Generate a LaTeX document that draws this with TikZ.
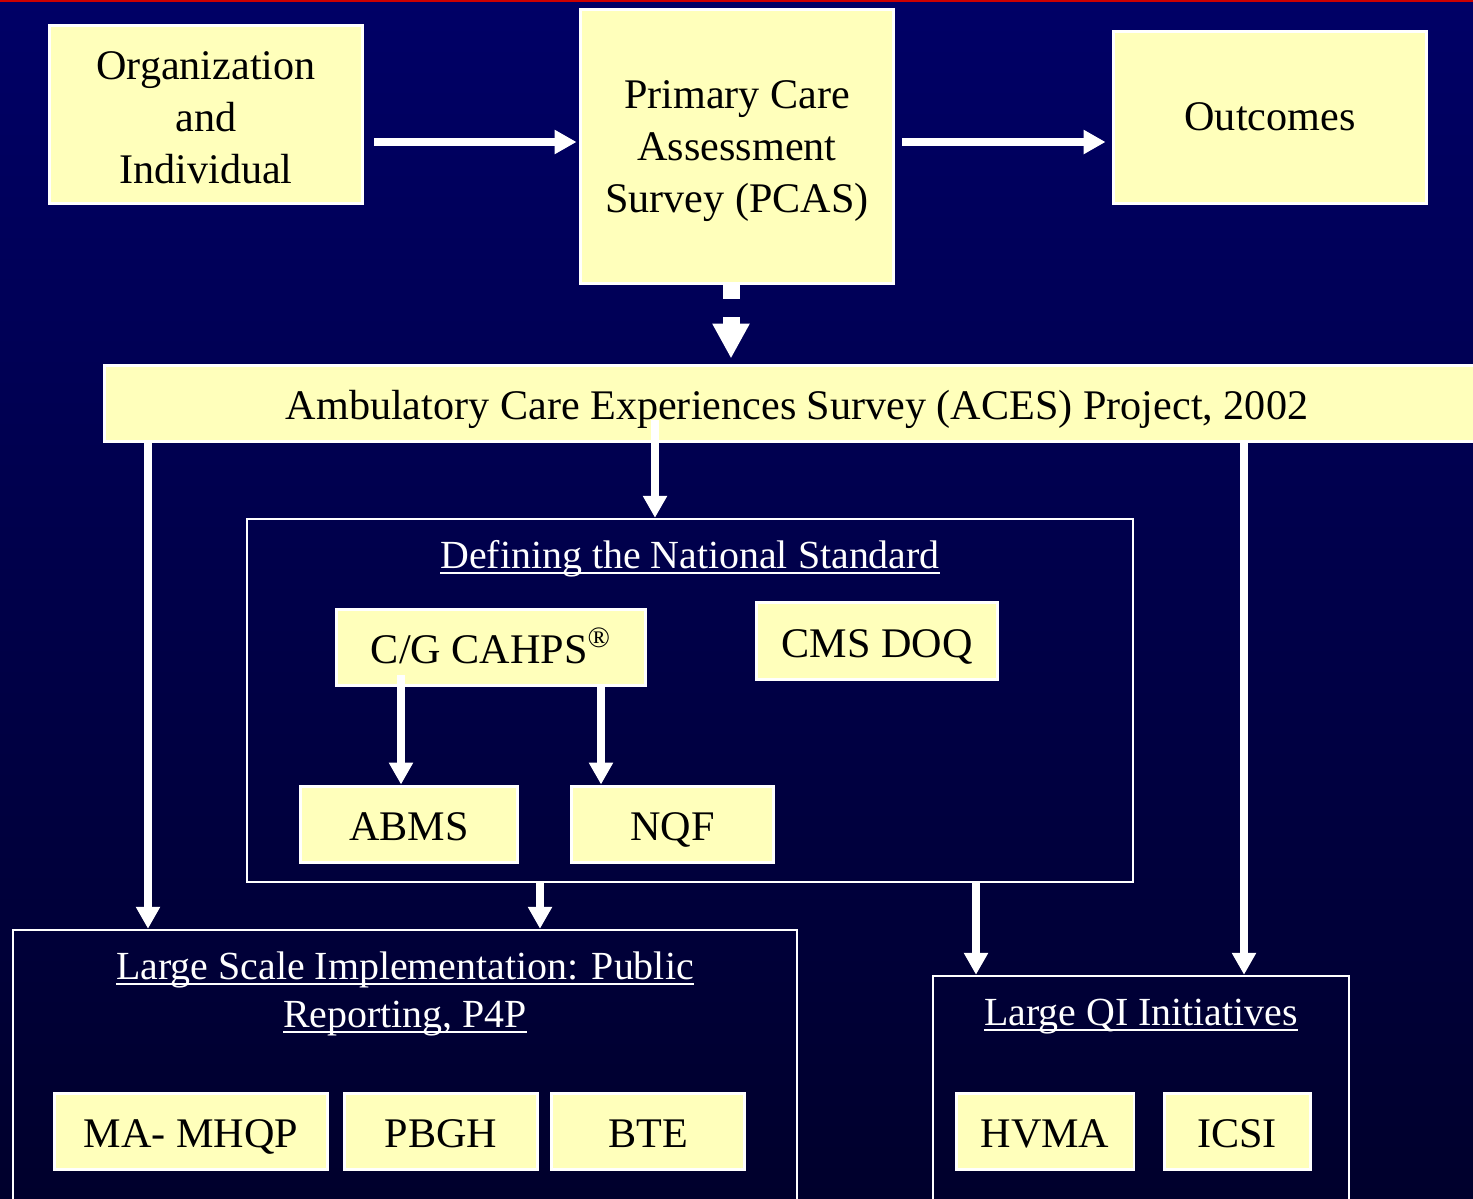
\documentclass[tikz,border=0pt]{standalone}
\usepackage{fontspec}
\setmainfont{Liberation Serif}
\usetikzlibrary{arrows.meta}
\definecolor{slidenavy}{RGB}{0,0,102}
\definecolor{slidedeep}{RGB}{0,0,44}
\definecolor{boxyellow}{RGB}{255,255,187}
\newcommand{\ulbar}[1]{\setbox0\hbox{#1}\rlap{\rule[-0.13em]{\wd0}{0.055em}}\box0}

\begin{document}
\begin{tikzpicture}[x=0.02cm, y=-0.02cm,
    slidetext/.style={font=\fontsize{24}{29.5}\selectfont},
    yellowbox/.style={slidetext, draw=white, line width=0.06cm, fill=boxyellow,
      text=black, align=center, inner sep=0pt},
    oneline/.style={yellowbox, text height=0.82cm, text depth=0.16cm},
    framebox/.style={draw=white, line width=0.05cm, inner sep=0pt},
    frametitle/.style={font=\fontsize{22.7}{27.3}\selectfont, text=white, align=center},
    arr/.style={white, line width=0.15cm, -{Triangle[width=0.46cm, length=0.44cm]}}]
    \useasboundingbox (0, 0) rectangle (1473, 1198);
    \clip (0, 0) rectangle (1473, 1198);
    % background
    \shade [top color=slidenavy, bottom color=slidedeep] (0, 0) rectangle (1473, 1198);
    \fill [red!80!black] (0, 0) rectangle (1473, 2);
    % top row
    \node [yellowbox, minimum width=6.28cm, minimum height=3.58cm] (org) at (206, 114.5)
      {\rule{0pt}{0.68cm}Organization\\and\\Individual};
    \node [yellowbox, minimum width=6.28cm, minimum height=5.5cm] (pcas) at (737, 146.5)
      {\rule{0pt}{0.74cm}Primary Care\\Assessment\\Survey (PCAS)};
    \node [oneline, text height=0.68cm, minimum width=6.28cm, minimum height=3.46cm] (outc) at (1270, 117.5)
      {Outcomes};
    \draw [arr]      ([xshift=0.2cm]org.east |- 0, 142) -- ([xshift=-0.04cm]pcas.west |- 0, 142);
    \draw [arr]      ([xshift=0.14cm]pcas.east |- 0, 142) -- ([xshift=-0.12cm]outc.west |- 0, 142);
    % ACES
    \node [oneline, minimum width=27.72cm, minimum height=1.52cm] (aces) at (797, 403)
      {Ambulatory Care Experiences Survey (ACES) Project, 2002};
    \draw [white, line width=0.34cm, dash pattern=on 0.28cm off 0.36cm on 3cm,
           -{Triangle[width=0.7cm, length=0.7cm]}, shorten >=0.1cm]
      ([xshift=-0.12cm]pcas.south) -- ([xshift=-0.12cm]pcas.south |- aces.north);
    % Defining the National Standard
    \node [framebox, minimum width=17.72cm, minimum height=7.26cm] (defn) at (690, 700.5) {};
    \node [frametitle] (defnt) at (690, 559) {\ulbar{Defining the National Standard}};
    \node [oneline, minimum width=6.2cm, minimum height=1.52cm] (cahps) at (491, 647)
      {C/G CAHPS\textsuperscript{\textregistered}};
    \node [oneline, minimum width=4.84cm, minimum height=1.54cm] (doq) at (877, 640.5)
      {CMS DOQ};
    \node [oneline, minimum width=4.36cm, minimum height=1.52cm] (abms) at (409, 824)
      {ABMS};
    \node [oneline, minimum width=4.06cm, minimum height=1.52cm] (nqf) at (672.5, 824)
      {NQF};
    \draw [arr]      ([yshift=0.24cm]cahps.south -| 401, 0) -- (abms.north -| 401, 0);
    \draw [arr]      (cahps.south -| 601, 0) -- (nqf.north -| 601, 0);
    % Large Scale Implementation
    \node [framebox, minimum width=15.68cm, minimum height=6cm] (lsi) at (405, 1080) {};
    \node [frametitle] (lsit) at (405, 994)
      {\ulbar{Large Scale Implementation: Public}\\\ulbar{Reporting, P4P}};
    \node [oneline, minimum width=5.48cm, minimum height=1.52cm] (mhqp) at (191, 1131)
      {MA- MHQP};
    \node [oneline, minimum width=3.88cm, minimum height=1.52cm] (pbgh) at (441, 1131)
      {PBGH};
    \node [oneline, minimum width=3.88cm, minimum height=1.52cm] (bte) at (648, 1131)
      {BTE};
    % Large QI Initiatives
    \node [framebox, minimum width=8.32cm, minimum height=5.08cm] (lqi) at (1141, 1103) {};
    \node [frametitle] (lqit) at (1141, 1017) {\ulbar{Large QI Initiatives}};
    \node [oneline, minimum width=3.56cm, minimum height=1.52cm] (hvma) at (1045, 1131)
      {HVMA};
    \node [oneline, minimum width=2.92cm, minimum height=1.52cm] (icsi) at (1237, 1131)
      {ICSI};
    % links down
    \draw [arr]      (aces.south -| 148, 0) -- (lsi.north -| 148, 0);
    \draw [arr]      ([yshift=0.46cm]aces.south -| 655, 0) -- (defn.north -| 655, 0);
    \draw [arr]      (aces.south -| 1244, 0) -- (lqi.north -| 1244, 0);
    \draw [arr]      (defn.south -| 540, 0) -- (lsi.north -| 540, 0);
    \draw [arr]      (defn.south -| 976, 0) -- (lqi.north -| 976, 0);
\end{tikzpicture}
\end{document}
